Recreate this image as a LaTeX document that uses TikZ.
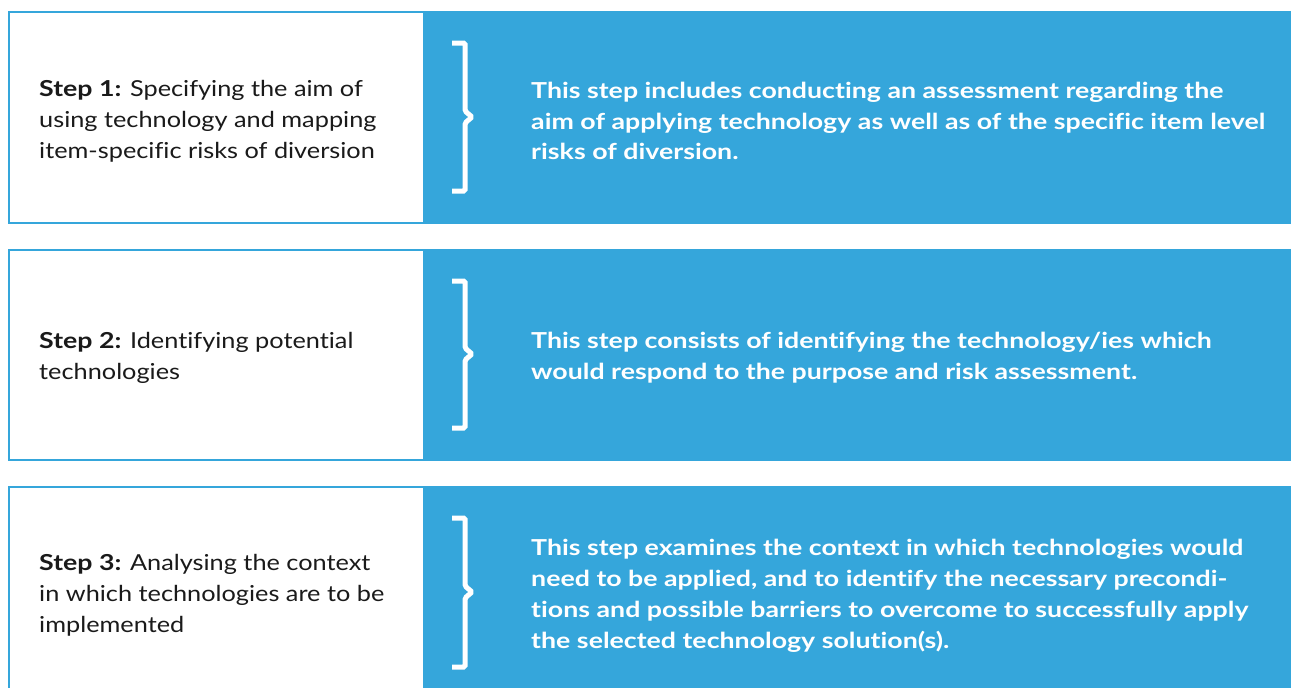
\documentclass[tikz,border=0pt]{standalone}
\usepackage{fontspec}
\setmainfont{Lato}[Ligatures=NoCommon,FakeStretch=1.15,BoldFeatures={FakeStretch=1.215}]
\definecolor{stepblue}{HTML}{35A6DB}
\definecolor{steptext}{HTML}{1A1A1A}
\begin{document}
\begin{tikzpicture}[x=1pt,y=-1pt,
  leftbox/.style={draw=stepblue,line width=2pt,fill=white},
  bluebox/.style={fill=stepblue},
  brace/.style={draw=white,line width=5pt,rounded corners=1.5pt},
  lefttext/.style={anchor=west,align=left,text=steptext,inner sep=0pt,
    font=\fontsize{22}{30.8}\selectfont},
  righttext/.style={anchor=west,align=left,text=white,inner sep=0pt,
    font=\fontsize{22}{30.8}\selectfont\bfseries}]
\useasboundingbox (0,0) rectangle (1291,688);
% row 1
\fill[bluebox] (424,11) rectangle (1291,224);
\draw[leftbox] (9,12) rectangle (424,223);
\draw[brace] (452,43) -- (465,43) -- (465,111) -- (472,117) -- (465,123) -- (465,191) -- (452,191);
\node[lefttext] (s1) at (39,121) {\textbf{Step 1:} Specifying the aim of\\using technology and mapping\\item-specific risks of diversion};
\node[righttext] (d1) at (531,121) {This step includes conducting an assessment regarding the\\aim of applying technology as well as of the specific item level\\risks of diversion.};
% row 2
\fill[bluebox] (424,249) rectangle (1291,461);
\draw[leftbox] (9,250) rectangle (424,460);
\draw[brace] (452,281) -- (465,281) -- (465,348) -- (472,354) -- (465,360) -- (465,428) -- (452,428);
\node[lefttext] (s2) at (39,358) {\textbf{Step 2:} Identifying potential\\technologies};
\node[righttext] (d2) at (531,358) {This step consists of identifying the technology/ies which\\would respond to the purpose and risk assessment.};
% row 3
\fill[bluebox] (424,486) rectangle (1291,690);
\draw[leftbox] (9,487) rectangle (424,692);
\draw[brace] (452,518) -- (465,518) -- (465,586) -- (472,592) -- (465,598) -- (465,667) -- (452,667);
\node[lefttext] (s3) at (39,595) {\textbf{Step 3:} Analysing the context\\in which technologies are to be\\implemented};
\node[righttext] (d3) at (531,596) {This step examines the context in which technologies would\\need to be applied, and to identify the necessary precondi-\\tions and possible barriers to overcome to successfully apply\\the selected technology solution(s).};
\end{tikzpicture}
\end{document}
